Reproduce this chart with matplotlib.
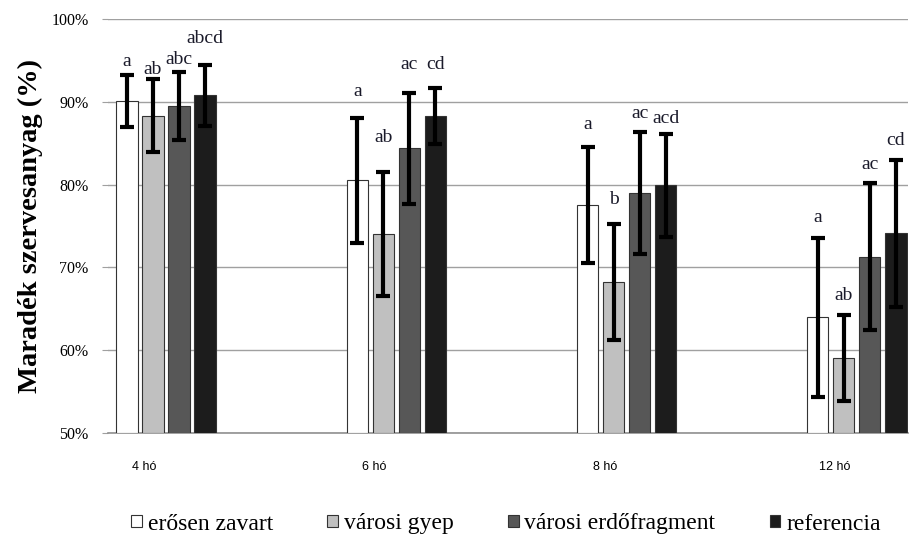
import matplotlib
matplotlib.use("Agg")
import matplotlib.pyplot as plt
import numpy as np
from matplotlib.ticker import FuncFormatter

# data
months = ["4 hó", "6 hó", "8 hó", "12 hó"]
series = ["erősen zavart", "városi gyep", "városi erdőfragment", "referencia"]

eros_zavart = [90.1, 80.5, 77.5, 64.0]
varosi_gyep = [88.3, 74.0, 68.2, 59.1]
erdofragment = [89.5, 84.4, 79.0, 71.3]
referencia = [90.8, 88.3, 79.9, 74.1]

eros_err = [3.1, 7.5, 7.0, 9.6]
gyep_err = [4.4, 7.5, 7.0, 5.2]
erdo_err = [4.1, 6.7, 7.4, 8.9]
ref_err = [3.7, 3.4, 6.2, 8.9]

eros_sig = ["a", "a", "a", "a"]
gyep_sig = ["ab", "ab", "b", "ab"]
erdo_sig = ["abc", "ac", "ac", "ac"]
ref_sig = ["abcd", "cd", "acd", "cd"]

# where the letters sit (as placed by hand in the original)
eros_lab_y = [94.9, 91.3, 87.2, 76.0]
gyep_lab_y = [93.9, 85.7, 78.2, 66.6]
erdo_lab_y = [95.1, 94.5, 88.6, 82.4]
ref_lab_y = [97.7, 94.5, 88.0, 85.3]

values = [eros_zavart, varosi_gyep, erdofragment, referencia]
errors = [eros_err, gyep_err, erdo_err, ref_err]
sigs = [eros_sig, gyep_sig, erdo_sig, ref_sig]
lab_ys = [eros_lab_y, gyep_lab_y, erdo_lab_y, ref_lab_y]
colors = ["#ffffff", "#c0c0c0", "#575757", "#1c1c1c"]

serif = ["Liberation Serif", "DejaVu Serif"]

fig = plt.figure(figsize=(9.09, 5.38), dpi=100)
ax = fig.add_axes([108 / 909, 105 / 538, 800 / 909, 414 / 538])

x = np.arange(len(months))
width = 0.092
pitch = 0.113
offsets = (np.arange(4) - 1.5) * pitch

handles = []
for i in range(4):
    xs = x + offsets[i]
    b = ax.bar(xs, np.array(values[i]) - 50, bottom=50, width=width,
               color=colors[i], edgecolor="#333333", linewidth=0.8,
               label=series[i], zorder=3)
    handles.append(b)
    ax.errorbar(xs, values[i], yerr=errors[i], fmt="none", ecolor="black",
                elinewidth=3, capsize=5, capthick=3, zorder=4)
    for xi, s, yl in zip(xs, sigs[i], lab_ys[i]):
        ax.text(xi, yl, s, ha="center", va="center", fontsize=14,
                family=serif, color="#1a1a2a", zorder=5)

ax.set_ylim(50, 100)
ax.set_xlim(-0.252, 3.222)
ax.set_yticks([50, 60, 70, 80, 90, 100])
ax.yaxis.set_major_formatter(FuncFormatter(lambda v, pos: f"{v:.0f}%"))
ax.grid(axis="y", color="#a0a0a0", linewidth=1, zorder=0)
ax.set_xticks(x - 0.095)
ax.set_xticklabels(months, fontsize=9, family="Liberation Sans")
ax.tick_params(axis="x", length=0, pad=20)
ax.tick_params(axis="y", length=4, color="#a0a0a0", labelsize=11.5, pad=10)
for lbl in ax.get_yticklabels():
    lbl.set_family(serif)

for side in ["top", "right", "left"]:
    ax.spines[side].set_visible(False)
ax.spines["bottom"].set_color("#909090")
ax.spines["bottom"].set_linewidth(1.2)

ax.set_ylabel("Maradék szervesanyag (%)", fontsize=20.5, fontweight="bold",
              family=serif, labelpad=6)

fig.legend(handles=handles, labels=series, loc="center",
           bbox_to_anchor=(506 / 909, 14 / 538), ncol=4, frameon=False,
           prop={"family": serif, "size": 17}, handlelength=0.45,
           handleheight=0.45, handletextpad=0.25, columnspacing=2.3)

fig.savefig("out.png", dpi=100)
